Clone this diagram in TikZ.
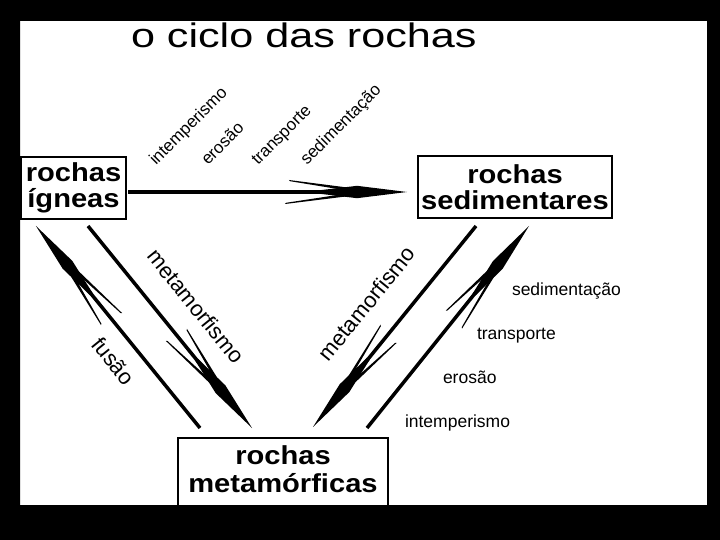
\documentclass[tikz,border=0pt]{standalone}
\usepackage{fontspec}
\setmainfont{Liberation Sans}
\newfontfamily\titlefont[FakeStretch=1.27]{Liberation Sans}
\newfontfamily\boxfont[FakeStretch=1.12]{Liberation Sans Bold}
\usetikzlibrary{decorations.markings}
\newcommand\rockhead{%
  \fill (0,0) -- (-50,6.2) -- (-68,4) -- (-88,1.7) -- (-88,-1.7) -- (-68,-4) -- (-50,-6.2) -- cycle;
  \fill (-122,12) -- (-121,10.8) -- (-60,1.5) -- (-62,4.6) -- cycle;
  \fill (-118,-12) -- (-117,-10.8) -- (-60,-1.5) -- (-62,-4.8) -- cycle;
}
\tikzset{
  every node/.style={inner sep=0pt, outer sep=0pt},
  rockbox/.style={draw=black, line width=1.3bp, align=center,
    font=\boxfont\fontsize{26bp}{26bp}\selectfont},
  stem/.style={line width=3.5bp, shorten >=35bp},
  fancyhead/.style={decorate, decoration={markings,
    mark=at position 0.99999 with {\rockhead}}},
  smalllab/.style={anchor=base west, font=\fontsize{17.5bp}{17.5bp}\selectfont},
  toplab/.style={rotate=45, anchor=base west, font=\fontsize{17bp}{17bp}\selectfont},
  biglab/.style={font=\fontsize{22bp}{22bp}\selectfont}
}
\begin{document}
\begin{tikzpicture}[x=1bp,y=-1bp]
\useasboundingbox (0,0) rectangle (720,540);
\fill[white] (20,21) rectangle (707,505);

% title
\node[anchor=base west, font=\titlefont\fontsize{34bp}{34bp}\selectfont] (title) at (131,47.5) {o ciclo das rochas};

% boxes
\node[rockbox, minimum width=105bp, minimum height=62bp] (ign) at (73.5,188) {rochas\\ígneas};
\node[rockbox, minimum width=194bp, minimum height=62bp] (sed) at (515,187) {rochas\\sedimentares};
\node[rockbox, minimum width=210bp, minimum height=70bp,
  font=\boxfont\fontsize{26bp}{28bp}\selectfont] (met) at (283,473) {rochas\\metamórficas\rule[-7bp]{0pt}{0pt}};

% horizontal arrow
\draw[stem] ([shift={(2,4)}]ign.east) -- ([shift={(-11,5)}]sed.west);
\path[fancyhead] ([shift={(2,4)}]ign.east) -- ([shift={(-11,5)}]sed.west);

% fusao: metamorficas -> igneas
\draw[stem] ([shift={(22,-10)}]met.north west) -- ([shift={(15,7)}]ign.south west);
\path[fancyhead] ([shift={(22,-10)}]met.north west) -- ([shift={(15,7)}]ign.south west);
% metamorfismo: igneas -> metamorficas
\draw[stem] ([shift={(67,7)}]ign.south west) -- ([shift={(74,-10)}]met.north west);
\path[fancyhead] ([shift={(67,7)}]ign.south west) -- ([shift={(74,-10)}]met.north west);
% metamorfismo: sedimentares -> metamorficas
\draw[stem] ([shift={(58,8)}]sed.south west) -- ([shift={(135,-11)}]met.north west);
\path[fancyhead] ([shift={(58,8)}]sed.south west) -- ([shift={(135,-11)}]met.north west);
% metamorficas -> sedimentares
\draw[stem] ([shift={(189,-10)}]met.north west) -- ([shift={(111,8)}]sed.south west);
\path[fancyhead] ([shift={(189,-10)}]met.north west) -- ([shift={(111,8)}]sed.south west);

% top labels
\node[toplab] (t1) at (156,166) {intemperismo};
\node[toplab] (t2) at (208,166) {erosão};
\node[toplab] (t3) at (258,166) {transporte};
\node[toplab] (t4) at (307,166) {sedimentação};

% right labels
\node[smalllab] (r1) at (512,295) {sedimentação};
\node[smalllab] (r2) at (477,339) {transporte};
\node[smalllab] (r3) at (443,383) {erosão};
\node[smalllab] (r4) at (405,427) {intemperismo};

% diagonal labels
\node[biglab, rotate=-51] (m1) at (196,306) {metamorfismo};
\node[biglab, rotate=-51] (fu) at (113.5,361) {fusão};
\node[biglab, rotate=51] (m2) at (366.5,303.5) {metamorfismo};

% frame
\fill[black, even odd rule] (0,0) rectangle (720,540) (20,21) rectangle (707,505);
\end{tikzpicture}
\end{document}
